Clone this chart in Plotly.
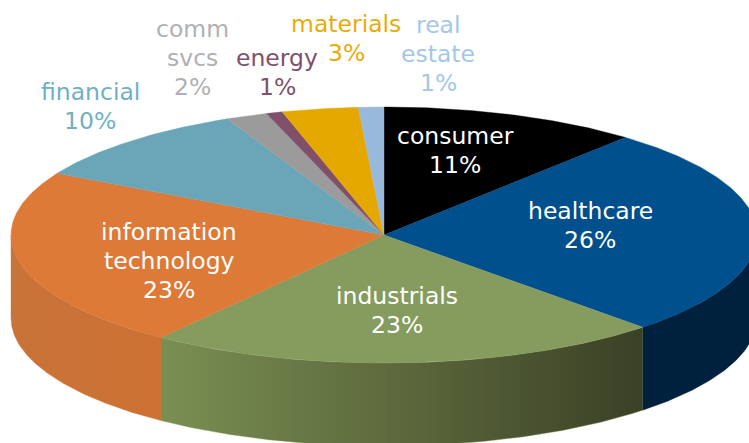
import numpy as np
import plotly.graph_objects as go

categories = ["consumer", "healthcare", "industrials", "information<br>technology",
              "financial", "comm<br>svcs", "energy", "materials", "real<br>estate"]
shares = [11.2, 26.6, 22.4, 22.8, 10.1, 1.8, 0.7, 3.3, 1.1]
percent_labels = ["11%", "26%", "23%", "23%", "10%", "2%", "1%", "3%", "1%"]

top_colors = ["#000000", "#00508e", "#859c5e", "#dd7a38", "#6aa6b8",
              "#9b9b9b", "#80506a", "#e5a800", "#98b9dc"]
side_gradients = [None, ["#00213e", "#00213e"], ["#7a8f52", "#5c683c", "#3a4026"],
                  ["#c8733a", "#cd7133"], None, None, None, None, None]
label_colors = ["#ffffff", "#ffffff", "#ffffff", "#ffffff", "#6fb0c4",
                "#b0b0b4", "#81506a", "#e9ab0a", "#a3c8e8"]
label_pos = [(455, 150), (590, 225), (397, 310), (169, 261), (90, 106),
             (192, 58), (277, 72), (346, 38), (438, 54)]

W, H = 749, 443
CX, CY, RX, RY, DEPTH = 384, 235, 373, 128, 83
LINE_STEP = 29


def rim(a0, a1, dy=0.0):
    t = np.radians(np.linspace(a0, a1, max(int(abs(a1 - a0) * 2), 2)))
    return CX + RX * np.sin(t), CY - RY * np.cos(t) + dy


fig = go.Figure()
edges = np.concatenate([[0], np.cumsum(shares)]) / sum(shares) * 360

# side walls (only the front half of the rim is visible)
for i, grad in enumerate(side_gradients):
    a0, a1 = max(edges[i], 90), min(edges[i + 1], 270)
    if grad is None or a1 <= a0:
        continue
    xt, yt = rim(a0, a1)
    xb, yb = rim(a1, a0, DEPTH)
    n = len(grad) - 1
    fig.add_trace(go.Scatter(
        x=np.concatenate([xt, xb]), y=np.concatenate([yt, yb]),
        mode="lines", fill="toself", line=dict(width=0.4, color=grad[-1 if i == 1 else 0]),
        fillgradient=dict(type="horizontal",
                          colorscale=[[k / n, c] for k, c in enumerate(grad)]),
        hoverinfo="skip", showlegend=False))

# top faces
for i, c in enumerate(top_colors):
    xr, yr = rim(edges[i], edges[i + 1])
    fig.add_trace(go.Scatter(
        x=np.concatenate([[CX], xr, [CX]]), y=np.concatenate([[CY], yr, [CY]]),
        mode="lines", fill="toself", fillcolor=c, line=dict(width=0.4, color=c),
        name=categories[i].replace("<br>", " "), hoverinfo="name", showlegend=False))

for name, pct, col, (lx, ly) in zip(categories, percent_labels, label_colors, label_pos):
    lines = name.split("<br>") + [pct]
    for k, line in enumerate(lines):
        fig.add_annotation(x=lx, y=ly + (k - (len(lines) - 1) / 2) * LINE_STEP, text=line,
                           showarrow=False, xanchor="center", yanchor="middle", align="center",
                           font=dict(family="DejaVu Sans", size=23.5, color=col))

fig.update_xaxes(range=[0, W], visible=False, fixedrange=True)
fig.update_yaxes(range=[H, 0], visible=False, fixedrange=True)
fig.update_layout(width=W, height=H, margin=dict(l=0, r=0, t=0, b=0),
                  paper_bgcolor="white", plot_bgcolor="white")
fig.write_html("out.html", config=dict(displayModeBar=False),
               post_script="document.body.style.margin='0';document.body.style.overflow='hidden';")
